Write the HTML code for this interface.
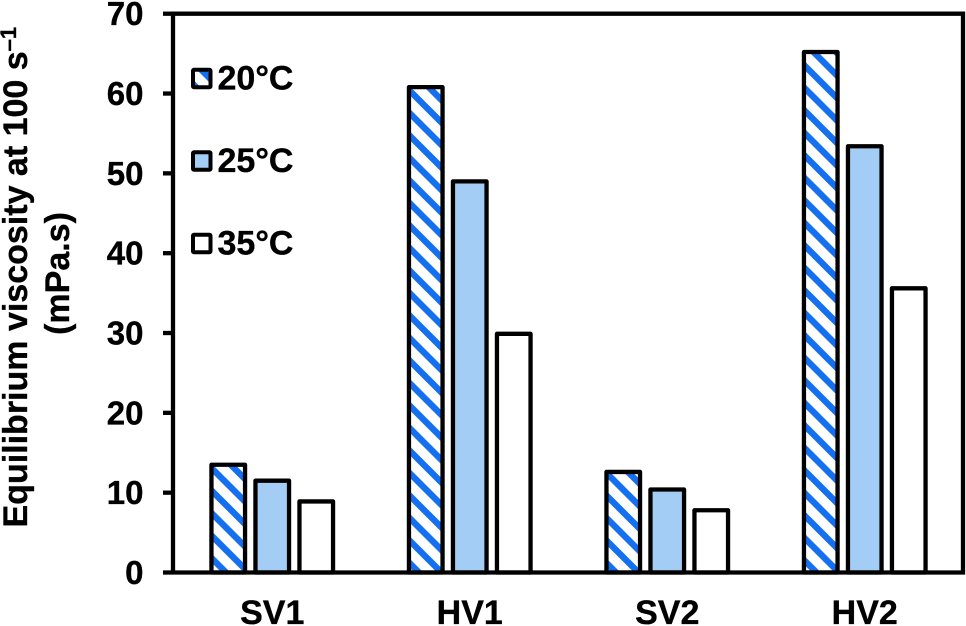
<!DOCTYPE html>
<html>
<head>
<meta charset="utf-8">
<title>Equilibrium viscosity chart</title>
<style>
html,body{margin:0;padding:0;background:#fff;width:966px;height:626px;overflow:hidden}
svg{display:block}
text{font-family:"Liberation Sans",Arial,sans-serif;font-weight:700;fill:#000;stroke:#000;stroke-width:.35px}
</style>
</head>
<body>
<svg id="chart" xmlns="http://www.w3.org/2000/svg" width="966" height="626" viewBox="0 0 966 626">
  <defs>
    <g id="stripe-tile">
      <rect width="22.5" height="22.5" fill="#fff"/>
      <path d="M-6 -6 L28.5 28.5 M-6 16.5 L6 28.5 M16.5 -6 L28.5 6" stroke="#1570f0" stroke-width="6.4" fill="none"/>
    </g>
    <pattern id="stripes-0" patternUnits="userSpaceOnUse" width="22.5" height="22.5" patternTransform="translate(0 9)"><use href="#stripe-tile"/></pattern>
    <pattern id="stripes-1" patternUnits="userSpaceOnUse" width="22.5" height="22.5" patternTransform="translate(0 18.5)"><use href="#stripe-tile"/></pattern>
    <pattern id="stripes-2" patternUnits="userSpaceOnUse" width="22.5" height="22.5" patternTransform="translate(0 1.5)"><use href="#stripe-tile"/></pattern>
    <pattern id="stripes-3" patternUnits="userSpaceOnUse" width="22.5" height="22.5" patternTransform="translate(0 3.5)"><use href="#stripe-tile"/></pattern>
  </defs>
  <g id="plot"></g>
  <text transform="translate(27 527.5) rotate(-90)" font-size="34">Equilibrium viscosity at 100 s<tspan dy="-11" font-size="22">–1</tspan></text>
  <text transform="translate(69 273.5) rotate(-90)" font-size="34" text-anchor="middle">(mPa.s)</text>
</svg>
<script>
const categories = ['SV1', 'HV1', 'SV2', 'HV2'];
const seriesNames = ['20°C', '25°C', '35°C'];
const values20 = [13.5, 60.8, 12.6, 65.2];
const values25 = [11.5, 49.0, 10.4, 53.4];
const values35 = [8.9, 29.9, 7.8, 35.6];
const yTicks = [0, 10, 20, 30, 40, 50, 60, 70];

const NS = 'http://www.w3.org/2000/svg';
const plot = document.getElementById('plot');
const left = 173, right = 963, y0 = 572.5, y70 = 13.7;
const allSeries = [values20, values25, values35];

function yScale(v) { return y0 - (v / 70) * (y0 - y70); }
function xBand(i) { return left + (right - left) * (i + 0.5) / categories.length; }
function barFill(s, i) {
  if (s === 0) return 'url(#stripes-' + i + ')';
  return s === 1 ? '#a3cdf5' : '#ffffff';
}
function mk(tag, attrs) {
  const el = document.createElementNS(NS, tag);
  for (const k in attrs) el.setAttribute(k, attrs[k]);
  plot.appendChild(el);
  return el;
}

const barW = 33.6, pitch = 44;
categories.forEach(function (cat, i) {
  allSeries.forEach(function (series, s) {
    const top = yScale(series[i]);
    const bar = mk('rect', {
      x: xBand(i) + (s - 1) * pitch - barW / 2 + 0.5,
      y: top,
      width: barW,
      height: y0 - top,
      fill: barFill(s, i),
      stroke: '#000',
      'stroke-width': 4.3,
      'stroke-linejoin': 'round'
    });
    
    
  });
  const label = mk('text', { x: xBand(i) + 0.5, y: 624, 'font-size': 34, 'text-anchor': 'middle' });
  label.textContent = cat;
  
  
});

yTicks.forEach(function (t) {
  const y = yScale(t);
  const tick = mk('line', { x1: 163, x2: left, y1: y, y2: y, stroke: '#000', 'stroke-width': 4.3 });
  
  
  const label = mk('text', { x: 143.5, y: y + 11.5, 'font-size': 33, 'text-anchor': 'end' });
  label.textContent = t;
  
  
});

const frame = mk('path', {
  d: 'M' + left + ' ' + y0 + 'V' + y70 + 'H' + right + 'V' + y0 + 'H' + left,
  fill: 'none', stroke: '#000', 'stroke-width': 4.3
});



const legendY = [78.5, 161, 243.5];
seriesNames.forEach(function (name, s) {
  const swatch = mk('rect', {
    x: 193, y: legendY[s] - 8.8, width: 17.5, height: 17.5, rx: 1,
    fill: barFill(s, 3), stroke: '#000', 'stroke-width': 4
  });
  
  
  const label = mk('text', { x: 217.5, y: legendY[s] + 11, 'font-size': 34 });
  label.textContent = name;
  
  
});
</script>
</body>
</html>
